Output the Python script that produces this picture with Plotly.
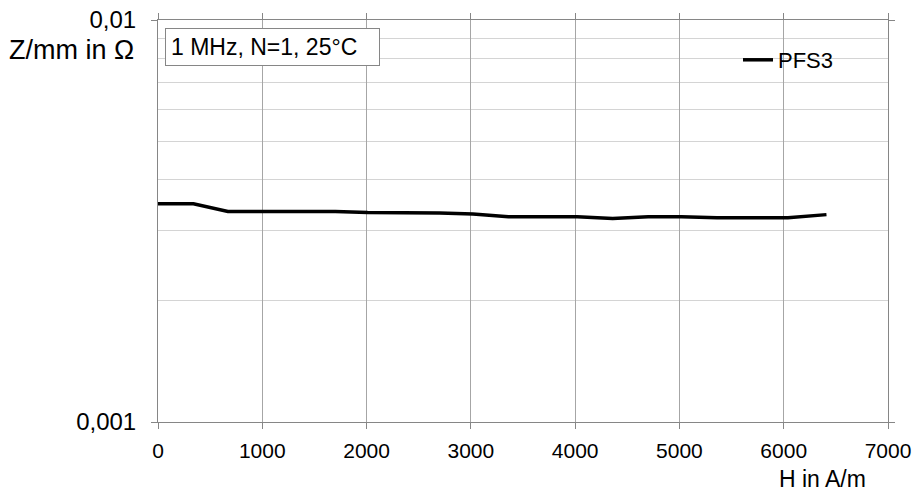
import plotly.graph_objects as go

# Data
H = [0, 340, 670, 1000, 1340, 1700, 2010, 2350, 2700, 3020, 3360, 3700, 4020,
     4360, 4700, 5020, 5360, 5700, 6040, 6410]
Z_PFS3 = [0.00349, 0.00349, 0.00334, 0.00334, 0.00334, 0.00334, 0.00332, 0.00332,
          0.00331, 0.00329, 0.00324, 0.00324, 0.00324, 0.00321, 0.00324, 0.00324,
          0.00322, 0.00322, 0.00322, 0.00328]
series_name = "PFS3"
x_ticks = [0, 1000, 2000, 3000, 4000, 5000, 6000, 7000]
y_major = [0.001, 0.01]
y_major_text = ["0,001", "0,01"]
y_minor = [0.002, 0.003, 0.004, 0.005, 0.006, 0.007, 0.008, 0.009]
note_text = "1 MHz, N=1, 25°C"
x_title = "H in A/m"
y_title = "Z/mm in Ω"

FONT = "Liberation Sans, Arial, sans-serif"
W, H_px = 916, 492
ml, mr, mt, mb = 158, 28, 20, 70
pw, ph = W - ml - mr, H_px - mt - mb

fig = go.Figure()
fig.add_trace(go.Scatter(x=H, y=Z_PFS3, mode="lines", name=series_name,
                         line=dict(color="black", width=3.5)))

fig.update_layout(
    width=W, height=H_px, autosize=False,
    margin=dict(l=ml, r=mr, t=mt, b=mb, pad=0, autoexpand=False),
    paper_bgcolor="white", plot_bgcolor="white",
    font=dict(family=FONT, size=22, color="black"),
    showlegend=True,
    legend=dict(x=(738 - ml) / pw, y=1 - (60 - mt) / ph, xanchor="left", yanchor="middle",
                bgcolor="rgba(0,0,0,0)", borderwidth=0,
                font=dict(family=FONT, size=22, color="black"),
                itemwidth=30, tracegroupgap=0),
    xaxis=dict(range=[0, 7000], tickvals=x_ticks, ticks="outside", ticklen=6,
               tickcolor="#868686", showline=True, linecolor="#868686", linewidth=1,
               mirror="ticks", showgrid=True, gridcolor="#a6a6a6", gridwidth=1,
               zeroline=False, tickfont=dict(family=FONT, size=21), ticklabelstandoff=4,
               automargin=False),
    yaxis=dict(type="log", range=[-3, -2], tickvals=y_major, ticktext=y_major_text,
               ticks="outside", ticklen=6, tickcolor="#868686", showline=True,
               linecolor="#868686", linewidth=1, mirror="ticks", showgrid=True,
               gridcolor="#d0d0d0", zeroline=False, tickfont=dict(family=FONT, size=24),
               ticklabelstandoff=10, automargin=False,
               minor=dict(tickvals=y_minor, showgrid=True, gridcolor="#d4d4d4", ticks="")),
    shapes=[
        dict(type="rect", xref="paper", yref="paper", layer="between",
             x0=(692 - ml) / pw, x1=(885 - ml) / pw,
             y0=1 - (90 - mt) / ph, y1=1 - (30 - mt) / ph,
             fillcolor="white", line=dict(width=0)),
    ],
    annotations=[
        dict(text=note_text, xref="paper", yref="paper",
             x=(165 - ml) / pw, y=1 - (28 - mt) / ph, xanchor="left", yanchor="top",
             showarrow=False, bgcolor="white", bordercolor="#868686", borderwidth=1,
             borderpad=5, width=203, align="left", font=dict(family=FONT, size=23)),
        dict(text=y_title, xref="paper", yref="paper", x=0, xshift=-22,
             y=1 - (50 - mt) / ph, xanchor="right", yanchor="middle", showarrow=False,
             font=dict(family=FONT, size=27)),
        dict(text=x_title, xref="paper", yref="paper", x=1, xshift=-20,
             y=0, yshift=-42, xanchor="right", yanchor="top", showarrow=False,
             font=dict(family=FONT, size=23)),
    ],
)

fig.write_html("out.html", config={"displayModeBar": False},
               post_script="document.body.style.margin='0';document.body.style.overflow='hidden';")
